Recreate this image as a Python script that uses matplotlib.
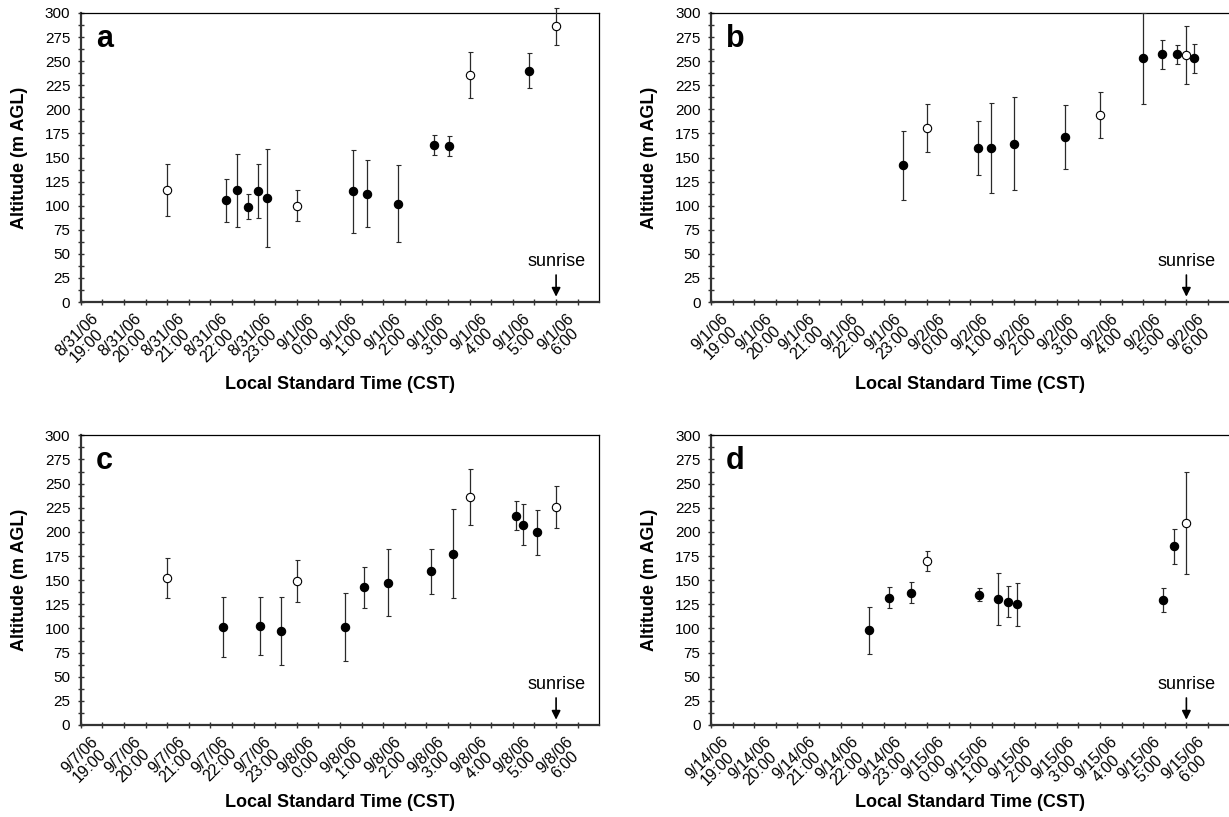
import numpy as np
import matplotlib
matplotlib.use("Agg")
import matplotlib.pyplot as plt

plt.rcParams['font.family'] = ['Liberation Sans', 'DejaVu Sans']

# hour labels along the x axis (hours after 19:00)
hour_labels = ['19:00', '20:00', '21:00', '22:00', '23:00', '0:00',
               '1:00', '2:00', '3:00', '4:00', '5:00', '6:00']

# panel a: night of 8/31/06 - 9/1/06
a_dates = ('8/31/06', '9/1/06')
a_time = ['21:00', '22:22', '22:37', '22:52', '23:06', '23:19', '0:00', '1:18',
          '1:38', '2:20', '3:11', '3:32', '4:00', '5:22', '6:00']
a_alt = [116, 105.5, 116, 99, 115, 108, 100, 115, 112.5, 102, 163, 162,
         235.5, 240, 286]
a_err = [27, 22, 38, 13.3, 28, 50.4, 16, 43, 35, 40, 10, 10, 24, 18, 19.5]
a_open = [1, 0, 0, 0, 0, 0, 1, 0, 0, 0, 0, 0, 1, 0, 1]

# panel b: night of 9/1/06 - 9/2/06
b_dates = ('9/1/06', '9/2/06')
b_time = ['23:26', '0:00', '1:11', '1:29', '2:01', '3:12', '4:00', '5:00',
          '5:26', '5:47', '6:00', '6:11']
b_alt = [142, 180.5, 159.5, 160, 164.5, 171, 194.5, 253, 257, 257, 256.5, 253]
b_err = [36, 25, 28, 47, 48, 33, 24, 47, 15, 10.3, 30.5, 15.2]
b_open = [0, 1, 0, 0, 0, 0, 1, 0, 0, 0, 1, 0]

# panel c: night of 9/7/06 - 9/8/06
c_dates = ('9/7/06', '9/8/06')
c_time = ['21:00', '22:17', '23:09', '23:38', '0:00', '1:07', '1:34', '2:06',
          '3:07', '3:37', '4:00', '5:05', '5:14', '5:33', '6:00']
c_alt = [152, 101.5, 103, 97.5, 149, 101.5, 142.5, 147.5, 159, 177.5, 236.5,
         216.5, 207.5, 199.5, 225.5]
c_err = [21, 31, 30, 35, 22, 35, 21, 35, 23, 46, 29, 15, 21, 23, 22]
c_open = [1, 0, 0, 0, 1, 0, 0, 0, 0, 0, 1, 0, 0, 0, 1]

# panel d: night of 9/14/06 - 9/15/06
d_dates = ('9/14/06', '9/15/06')
d_time = ['22:40', '23:07', '23:38', '0:00', '1:12', '1:38', '1:52', '2:05',
          '5:27', '5:43', '6:00']
d_alt = [98, 132, 137, 170, 135, 130.5, 127.5, 125, 129.5, 185, 209.5]
d_err = [24.7, 11, 11, 10.7, 6.7, 27, 16, 22, 12, 18, 53]
d_open = [0, 0, 0, 1, 0, 0, 0, 0, 0, 0, 1]

SUNRISE = '6:00'


def hours_after_19(t):
    h, m = t.split(':')
    return (int(h) - 19) % 24 + int(m) / 60.0


def draw_panel(ax, letter, dates, times, alt, err, is_open, xlabel_y):
    x = np.array([hours_after_19(t) for t in times])
    alt = np.array(alt)
    err = np.array(err)
    is_open = np.array(is_open, dtype=bool)

    for sel, face in ((~is_open, 'black'), (is_open, 'white')):
        eb = ax.errorbar(x[sel], alt[sel], yerr=err[sel], fmt='o', ms=6,
                         mfc=face, mec='black', mew=0.8, ecolor='#2a2a2a',
                         elinewidth=0.9, capsize=1.8, capthick=0.9, zorder=3)
        for art in eb.get_children():
            art.set_clip_on(False)

    ax.set_xlim(0, 12)
    ax.set_ylim(0, 300)
    ax.set_yticks(np.arange(0, 301, 25))
    ax.set_yticks(np.arange(12.5, 300, 25), minor=True)
    ax.set_xticks(np.arange(0, 12))
    ax.set_xticks(np.arange(0.5, 12, 1), minor=True)
    ax.set_xticklabels([])

    # two-line date/hour labels, slanted under each hour tick
    for i, h in enumerate(hour_labels):
        day = dates[0] if i < 5 else dates[1]
        ax.annotate(day + '\n' + h, xy=(i, 0), xycoords=('data', 'axes fraction'),
                    xytext=(7, -6.5), textcoords='offset points',
                    rotation=45, rotation_mode='anchor', ha='right', va='top',
                    multialignment='center', linespacing=0.95, fontsize=11.5,
                    annotation_clip=False)

    ax.tick_params(axis='both', which='both', direction='inout', length=5,
                   width=1.0, color='#333333', labelsize=11)
    ax.tick_params(axis='y', which='both', pad=5)
    for side in ('left', 'bottom'):
        ax.spines[side].set_linewidth(1.6)
        ax.spines[side].set_color('#333333')
    for side in ('top', 'right'):
        ax.spines[side].set_linewidth(0.9)
        ax.spines[side].set_color('black')

    ax.set_ylabel('Altitude (m AGL)', fontsize=13, fontweight='bold',
                  va='center')
    ax.yaxis.set_label_coords(-0.118, 0.5)
    ax.set_xlabel('Local Standard Time (CST)', fontsize=13, fontweight='bold',
                  va='center')
    ax.xaxis.set_label_coords(0.5, xlabel_y)

    ax.text(0.029, 0.882, letter, transform=ax.transAxes, fontsize=22,
            fontweight='bold', ha='left', va='baseline')

    # sunrise marker
    xs = hours_after_19(SUNRISE)
    ax.annotate('', xy=(xs, 5.5), xytext=(xs, 28),
                arrowprops=dict(arrowstyle='-|>', color='black', lw=1.2,
                                mutation_scale=13, shrinkA=0, shrinkB=0))
    ax.text(xs, 37, 'sunrise', ha='center', va='baseline', fontsize=13)


fig = plt.figure(figsize=(12.29, 8.17), dpi=100)
W, H = 1229.0, 817.0
ax_a = fig.add_axes([80.7 / W, 1 - 302 / H, 518.6 / W, 289 / H])
ax_b = fig.add_axes([711 / W, 1 - 302 / H, 518.6 / W, 289 / H])
ax_c = fig.add_axes([80.7 / W, 1 - 725 / H, 518.6 / W, 289.7 / H])
ax_d = fig.add_axes([711 / W, 1 - 725 / H, 518.6 / W, 289.7 / H])

draw_panel(ax_a, 'a', a_dates, a_time, a_alt, a_err, a_open, -0.284)
draw_panel(ax_b, 'b', b_dates, b_time, b_alt, b_err, b_open, -0.284)
draw_panel(ax_c, 'c', c_dates, c_time, c_alt, c_err, c_open, -0.266)
draw_panel(ax_d, 'd', d_dates, d_time, d_alt, d_err, d_open, -0.266)

fig.savefig('out.png', dpi=100)
